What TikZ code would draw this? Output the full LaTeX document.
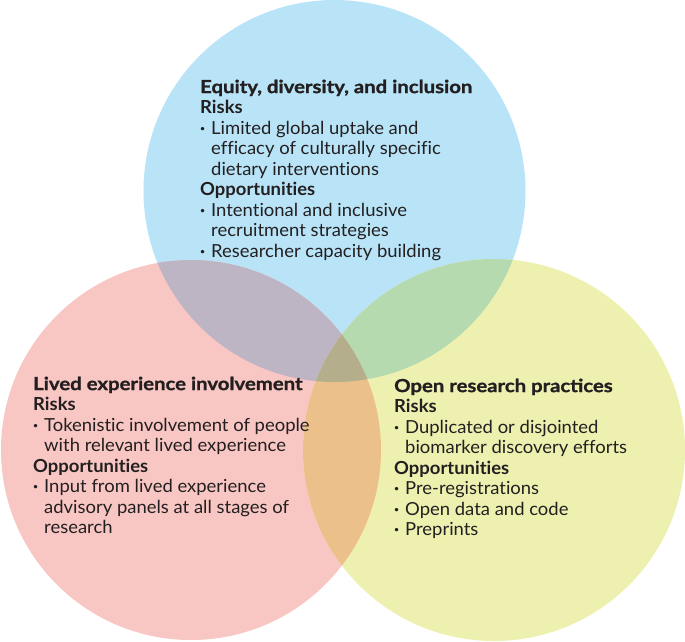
\documentclass[tikz,border=0pt]{standalone}
\usepackage{fontspec}
\setmainfont{Lato}[FakeStretch=1.025,Ligatures=NoCommon]
\newfontfamily\ttlfont{Lato}[FakeStretch=1.13,FakeBold=1.2]
\definecolor{cblue}{HTML}{B9E4F8}
\definecolor{cpink}{HTML}{F8C6C3}
\definecolor{cyell}{HTML}{EEF0B0}
\definecolor{cbp}{HTML}{BDB4C4}
\definecolor{cby}{HTML}{B6DAB0}
\definecolor{cpy}{HTML}{EBC08A}
\definecolor{cbpy}{HTML}{B5AE8C}
\definecolor{ctext}{HTML}{231F20}
\newcommand\blt{\makebox[11pt][l]{\textbf{·}}}
\newcommand\ind{\hspace*{11pt}}
\newcommand\hd[1]{\textbf{#1}}
\newcommand\ttl[1]{{\ttlfont\bfseries #1}}
\tikzset{
  blk/.style={anchor=north west, inner sep=0pt, align=left, text=ctext,
    font=\fontsize{18}{20.5}\selectfont}
}
\begin{document}
\begin{tikzpicture}[x=1pt,y=-1pt]
\useasboundingbox (0,0) rectangle (685,641);
\coordinate (ct) at (334.5,191);
\coordinate (cl) at (191,450);
\coordinate (cr) at (494,450);
\fill[cblue] (ct) circle[radius=191pt];
\fill[cpink] (cl) circle[radius=190pt];
\fill[cyell] (cr) circle[radius=191pt];
\begin{scope}
  \clip (ct) circle[radius=191pt];
  \fill[cbp] (cl) circle[radius=190pt];
  \fill[cby] (cr) circle[radius=191pt];
\end{scope}
\begin{scope}
  \clip (cl) circle[radius=190pt];
  \fill[cpy] (cr) circle[radius=191pt];
\end{scope}
\begin{scope}
  \clip (ct) circle[radius=191pt];
  \clip (cl) circle[radius=190pt];
  \fill[cbpy] (cr) circle[radius=191pt];
\end{scope}
\node[blk] (edi) at (200,79.5) {\ttl{Equity, diversity, and inclusion}\\
  \hd{Risks}\\
  \blt Limited global uptake and\\
  \ind efficacy of culturally specific\\
  \ind dietary interventions\\
  \hd{Opportunities}\\
  \blt Intentional and inclusive\\
  \ind recruitment strategies\\
  \blt Researcher capacity building};
\node[blk] (lei) at (33,376.5) {\ttl{Lived experience involvement}\\
  \hd{Risks}\\
  \blt Tokenistic involvement of people\\
  \ind with relevant lived experience\\
  \hd{Opportunities}\\
  \blt Input from lived experience\\
  \ind advisory panels at all stages of\\
  \ind research};
\node[blk] (orp) at (394,378.5) {\ttl{Open research practices}\\
  \hd{Risks}\\
  \blt Duplicated or disjointed\\
  \ind biomarker discovery efforts\\
  \hd{Opportunities}\\
  \blt Pre-registrations\\
  \blt Open data and code\\
  \blt Preprints};
\end{tikzpicture}
\end{document}
